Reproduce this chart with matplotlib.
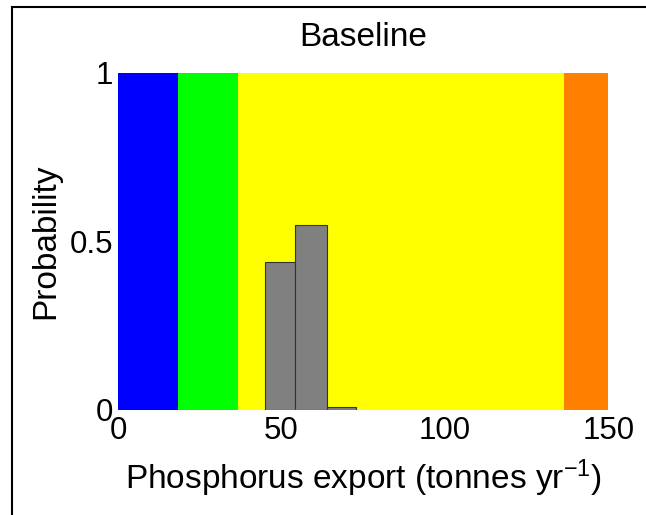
import matplotlib
matplotlib.use('Agg')
import matplotlib.pyplot as plt
from matplotlib.lines import Line2D

plt.rcParams['font.family'] = ['Liberation Sans', 'DejaVu Sans']
plt.rcParams['mathtext.fontset'] = 'custom'
plt.rcParams['mathtext.rm'] = 'Liberation Sans'
plt.rcParams['mathtext.it'] = 'Liberation Sans'

# Faixas de classe (limites e cores)
faixa_limites = [0, 18.4, 36.7, 136.5, 150]
faixa_cores = ['#0000ff', '#00ff00', '#ffff00', '#ff8000']

# Histograma de probabilidade
barra_bordas = [45.0, 54.1, 63.9, 72.9]
barra_prob = [0.44, 0.548, 0.008]

x_ticks = [0, 50, 100, 150]
y_ticks = [0, 0.5, 1]
y_ticklabels = ['0', '0.5', '1']

fs = 22.5   # números
fs_rot = 24  # títulos / rótulos

fig = plt.figure(figsize=(6.46, 5.15), dpi=100)
ax = fig.add_axes([0.183, 0.2039, 0.7585, 0.6549])

for i in range(len(faixa_cores)):
    ax.axvspan(faixa_limites[i], faixa_limites[i + 1], color=faixa_cores[i], lw=0)

larguras = [barra_bordas[i + 1] - barra_bordas[i] for i in range(len(barra_prob))]
ax.bar(barra_bordas[:-1], barra_prob, width=larguras, align='edge',
       color='#808080', edgecolor='#333333', linewidth=0.8)

ax.set_xlim(0, 150)
ax.set_ylim(0, 1)
ax.set_xticks(x_ticks)
ax.set_yticks(y_ticks)
ax.set_yticklabels(y_ticklabels)
ax.tick_params(length=0, labelsize=fs, pad=3.6)
ax.tick_params(axis='x', pad=4.5)
for s in ax.spines.values():
    s.set_visible(False)

ax.set_title('Baseline', fontsize=fs_rot, pad=19)
ax.set_xlabel(r'Phosphorus export (tonnes yr$^{\mathrm{-1}}$)', fontsize=fs_rot, labelpad=8)
ax.set_ylabel('Probability', fontsize=fs_rot, labelpad=6)

# moldura da figura (só topo e esquerda aparecem)
fig.add_artist(Line2D([12 / 646, 1.0], [1 - 7 / 515, 1 - 7 / 515],
                      transform=fig.transFigure, color='black', lw=1.5))
fig.add_artist(Line2D([12 / 646, 12 / 646], [0.0, 1 - 7 / 515],
                      transform=fig.transFigure, color='black', lw=1.5))

fig.savefig('out.png', dpi=100)
